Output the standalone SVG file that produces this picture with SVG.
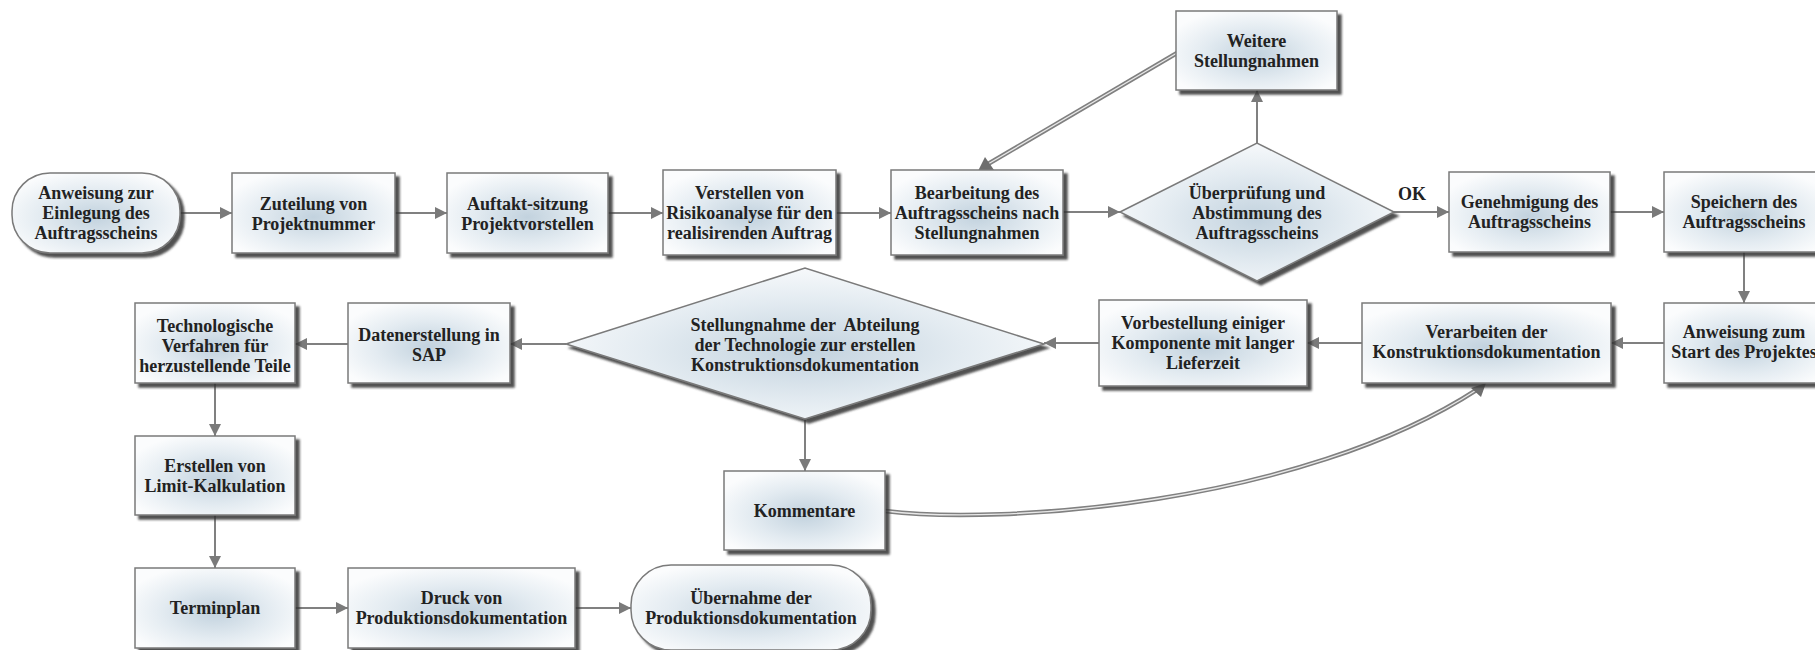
<svg xmlns="http://www.w3.org/2000/svg" width="1815" height="650" viewBox="0 0 1815 650">
<style>
.box{fill:url(#g);stroke:#7a7a7a;stroke-width:1.5;filter:url(#sh)}
.t{font-family:"Liberation Serif","Times New Roman",serif;font-weight:bold;font-size:18px;fill:#222;text-anchor:middle}
.e{fill:none;stroke:#808080;stroke-width:2;marker-end:url(#a)}
.d1{fill:none;stroke:#808080;stroke-width:4.5}
.d2{fill:none;stroke:#e8e8e8;stroke-width:1.3}
</style>
<defs>
<radialGradient id="g" cx="0.5" cy="0.55" r="0.6">
<stop offset="0" stop-color="#c2d2de"/>
<stop offset="0.55" stop-color="#e3ebf1"/>
<stop offset="1" stop-color="#fbfcfd"/>
</radialGradient>
<filter id="sh" x="-10%" y="-10%" width="125%" height="130%">
<feGaussianBlur in="SourceAlpha" stdDeviation="1"/>
<feOffset dx="4" dy="4" result="o"/>
<feFlood flood-color="#333" flood-opacity="0.85"/>
<feComposite in2="o" operator="in"/>
<feMerge><feMergeNode/><feMergeNode in="SourceGraphic"/></feMerge>
</filter>
<marker id="a" viewBox="0 0 12 12" refX="12" refY="6" markerWidth="12" markerHeight="12" markerUnits="userSpaceOnUse" orient="auto">
<path d="M0,0 L12,6 L0,12 Z" fill="#7a7a7a"/>
</marker>
<marker id="a2" viewBox="0 0 16 14" refX="16" refY="7" markerWidth="16" markerHeight="14" markerUnits="userSpaceOnUse" orient="auto">
<path d="M0,0 L16,7 L0,14 Z" fill="#6e6e6e"/>
</marker>
</defs>
<rect width="1815" height="650" fill="#fff"/>

<g id="connectors">
<path class="e" d="M180,213 H232"/>
<path class="e" d="M395,213 H447"/>
<path class="e" d="M608,213 H663"/>
<path class="e" d="M836,213 H891"/>
<path class="e" d="M1063,212 H1120"/>
<path class="e" d="M1394,212 H1449"/>
<text class="t" x="1412" y="200">OK</text>
<path class="e" d="M1610,212 H1664"/>
<path class="e" d="M1257,143 V90"/>
<path class="d1" d="M1177,53 L988,164"/>
<path class="d2" d="M1177,53 L988,164"/>
<path d="M978,171 L985,157 L994,170 Z" fill="#6e6e6e"/>
<path class="e" d="M1744,252 V303"/>
<path class="e" d="M1664,343 H1611"/>
<path class="e" d="M1362,343 H1307"/>
<path class="e" d="M1099,343 H1044"/>
<path class="e" d="M566,344 H510"/>
<path class="e" d="M348,344 H295"/>
<path class="e" d="M215,383 V436"/>
<path class="e" d="M215,515 V568"/>
<path class="e" d="M295,608 H348"/>
<path class="e" d="M575,608 H631"/>
<path class="e" d="M805,419 V471"/>
<path class="d1" d="M885,511 C1000,525 1300,505 1478,389"/>
<path class="d2" d="M885,511 C1000,525 1300,505 1478,389"/>
<path d="M1486,383 L1471,388 L1481,397 Z" fill="#6e6e6e"/>
</g>

<g id="n1"><rect class="box" x="12" y="173" width="168" height="80" rx="38"/>
<text class="t" x="96" y="199">Anweisung zur</text><text class="t" x="96" y="219">Einlegung des</text><text class="t" x="96" y="239">Auftragsscheins</text></g>

<g id="n2"><rect class="box" x="232" y="173" width="163" height="80"/>
<text class="t" x="313.5" y="210">Zuteilung von</text><text class="t" x="313.5" y="230">Projektnummer</text></g>

<g id="n3"><rect class="box" x="447" y="173" width="161" height="80"/>
<text class="t" x="527.5" y="210">Auftakt-sitzung</text><text class="t" x="527.5" y="230">Projektvorstellen</text></g>

<g id="n4"><rect class="box" x="663" y="170" width="173" height="85"/>
<text class="t" x="749.5" y="199">Verstellen von</text><text class="t" x="749.5" y="219">Risikoanalyse für den</text><text class="t" x="749.5" y="239">realisirenden Auftrag</text></g>

<g id="n5"><rect class="box" x="891" y="170" width="172" height="85"/>
<text class="t" x="977" y="199">Bearbeitung des</text><text class="t" x="977" y="219">Auftragsscheins nach</text><text class="t" x="977" y="239">Stellungnahmen</text></g>

<g id="n6"><polygon class="box" points="1120,212 1257,143 1394,212 1257,281"/>
<text class="t" x="1257" y="199">Überprüfung und</text><text class="t" x="1257" y="219">Abstimmung des</text><text class="t" x="1257" y="239">Auftragsscheins</text></g>

<g id="n7"><rect class="box" x="1176" y="11" width="161" height="79"/>
<text class="t" x="1256.5" y="47">Weitere</text><text class="t" x="1256.5" y="67">Stellungnahmen</text></g>

<g id="n8"><rect class="box" x="1449" y="172" width="161" height="80"/>
<text class="t" x="1529.5" y="208">Genehmigung des</text><text class="t" x="1529.5" y="228">Auftragsscheins</text></g>

<g id="n9"><rect class="box" x="1664" y="172" width="161" height="80"/>
<text class="t" x="1744" y="208">Speichern des</text><text class="t" x="1744" y="228">Auftragsscheins</text></g>

<g id="n10"><rect class="box" x="1664" y="303" width="161" height="80"/>
<text class="t" x="1744" y="338">Anweisung zum</text><text class="t" x="1744" y="358">Start des Projektes</text></g>

<g id="n11"><rect class="box" x="1362" y="303" width="249" height="80"/>
<text class="t" x="1486.5" y="338">Verarbeiten der</text><text class="t" x="1486.5" y="358">Konstruktionsdokumentation</text></g>

<g id="n12"><rect class="box" x="1099" y="300" width="208" height="86"/>
<text class="t" x="1203" y="329">Vorbestellung einiger</text><text class="t" x="1203" y="349">Komponente mit langer</text><text class="t" x="1203" y="369">Lieferzeit</text></g>

<g id="n13"><polygon class="box" points="566,344 805,268 1044,344 805,419"/>
<text class="t" x="805" y="331" xml:space="preserve">Stellungnahme der  Abteilung</text><text class="t" x="805" y="351">der Technologie zur erstellen</text><text class="t" x="805" y="371">Konstruktionsdokumentation</text></g>

<g id="n14"><rect class="box" x="348" y="303" width="162" height="80"/>
<text class="t" x="429" y="341">Datenerstellung in</text><text class="t" x="429" y="361">SAP</text></g>

<g id="n15"><rect class="box" x="135" y="303" width="160" height="80"/>
<text class="t" x="215" y="332">Technologische</text><text class="t" x="215" y="352">Verfahren für</text><text class="t" x="215" y="372">herzustellende Teile</text></g>

<g id="n16"><rect class="box" x="135" y="436" width="160" height="79"/>
<text class="t" x="215" y="472">Erstellen von</text><text class="t" x="215" y="492">Limit-Kalkulation</text></g>

<g id="n17"><rect class="box" x="135" y="568" width="160" height="80"/>
<text class="t" x="215" y="614">Terminplan</text></g>

<g id="n18"><rect class="box" x="348" y="568" width="227" height="80"/>
<text class="t" x="461.5" y="604">Druck von</text><text class="t" x="461.5" y="624">Produktionsdokumentation</text></g>

<g id="n19"><rect class="box" x="631" y="565" width="240" height="85" rx="40"/>
<text class="t" x="751" y="604">Übernahme der</text><text class="t" x="751" y="624">Produktionsdokumentation</text></g>

<g id="n20"><rect class="box" x="724" y="471" width="161" height="79"/>
<text class="t" x="804.5" y="517">Kommentare</text></g>
</svg>
